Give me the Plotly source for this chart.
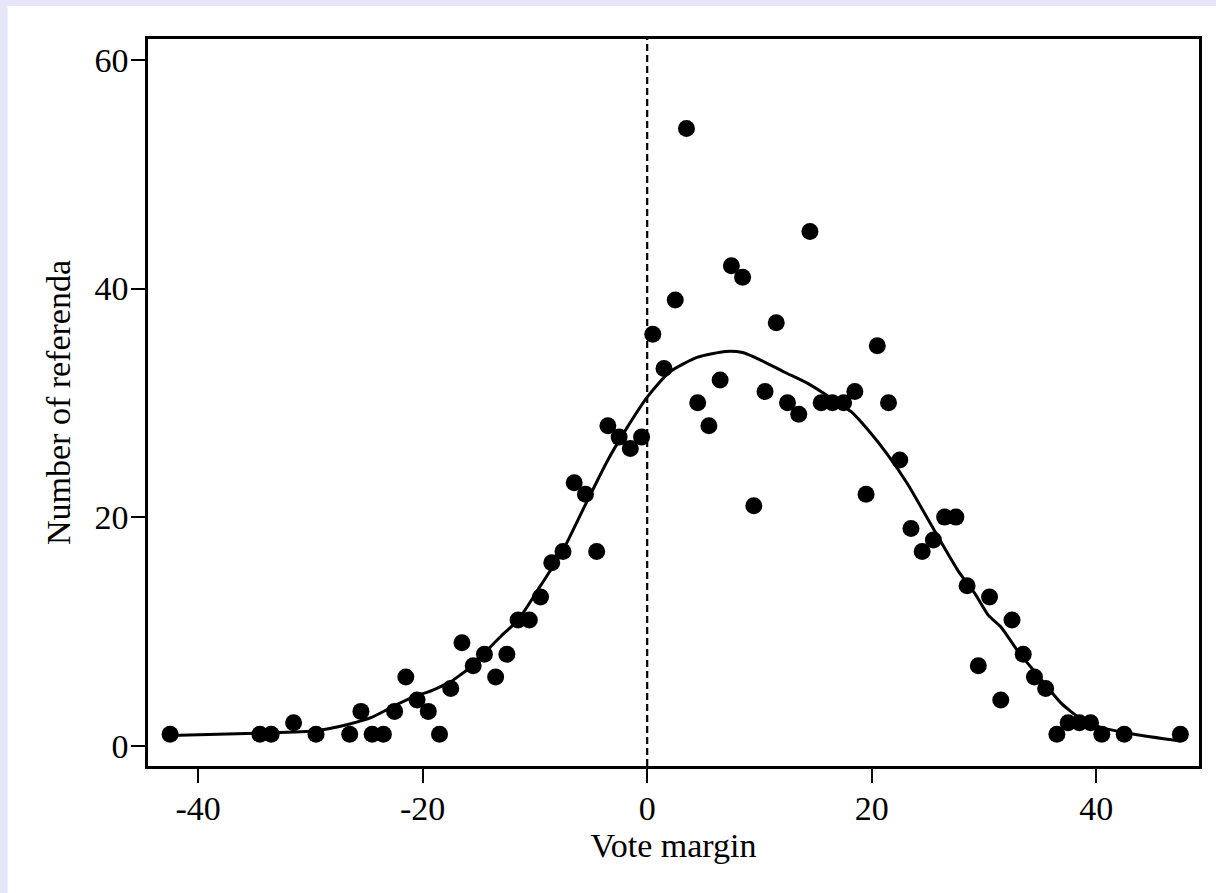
import plotly.graph_objects as go

# Binned counts of referenda by vote margin (bin centres)
margin = [-42.5, -34.5, -33.5, -31.5, -29.5, -26.5, -25.5, -24.5, -23.5, -22.5,
          -21.5, -20.5, -19.5, -18.5, -17.5, -16.5, -15.5, -14.5, -13.5, -12.5,
          -11.5, -10.5, -9.5, -8.5, -7.5, -6.5, -5.5, -4.5, -3.5, -2.5,
          -1.5, -0.5, 0.5, 1.5, 2.5, 3.5, 4.5, 5.5, 6.5, 7.5,
          8.5, 9.5, 10.5, 11.5, 12.5, 13.5, 14.5, 15.5, 16.5, 17.5,
          18.5, 19.5, 20.5, 21.5, 22.5, 23.5, 24.5, 25.5, 26.5, 27.5,
          28.5, 29.5, 30.5, 31.5, 32.5, 33.5, 34.5, 35.5, 36.5, 37.5,
          38.5, 39.5, 40.5, 42.5, 47.5]
count = [1, 1, 1, 2, 1, 1, 3, 1, 1, 3,
         6, 4, 3, 1, 5, 9, 7, 8, 6, 8,
         11, 11, 13, 16, 17, 23, 22, 17, 28, 27,
         26, 27, 36, 33, 39, 54, 30, 28, 32, 42,
         41, 21, 31, 37, 30, 29, 45, 30, 30, 30,
         31, 22, 35, 30, 25, 19, 17, 18, 20, 20,
         14, 7, 13, 4, 11, 8, 6, 5, 1, 2,
         2, 2, 1, 1, 1]

# Smoothed (lowess-style) curve
smooth_x = [-42.5, -34.5, -29.5, -26.5, -24.5, -22.5, -20.5, -19.5, -17.5, -16.5,
            -15.5, -14.5, -13.0, -11.5, -9.5, -7.5, -5.6, -3.5, -2.0, 0.0,
            2.0, 4.5, 7.0, 8.5, 10.2, 12.2, 14.3, 16.1, 18.2, 19.7,
            21.4, 23.2, 25.6, 27.7, 29.2, 30.4, 31.5, 33.0, 35.1, 36.9,
            38.7, 40.4, 43.4, 47.5]
smooth_y = [0.9, 1.1, 1.3, 1.9, 2.5, 3.5, 4.4, 4.7, 5.6, 6.3,
            7.0, 8.1, 9.6, 11.0, 14.0, 17.1, 20.9, 25.0, 27.5, 30.5,
            32.7, 34.0, 34.5, 34.4, 33.7, 32.7, 31.7, 30.6, 29.2, 27.6,
            25.5, 22.9, 18.8, 15.3, 13.3, 11.4, 10.4, 8.3, 5.8, 3.7,
            2.3, 1.6, 1.0, 0.4]

x_ticks = [-40, -20, 0, 20, 40]
x_tick_labels = ["-40", "-20", "0", "20", "40"]
y_ticks = [0, 20, 40, 60]
y_tick_labels = ["0", "20", "40", "60"]

FONT = "Liberation Serif"

fig = go.Figure()
fig.add_trace(go.Scatter(x=smooth_x, y=smooth_y, mode="lines",
                         line=dict(color="black", width=3, shape="spline", smoothing=0.6),
                         hoverinfo="skip", showlegend=False))
fig.add_trace(go.Scatter(x=margin, y=count, mode="markers",
                         marker=dict(color="black", size=17, line=dict(width=0)),
                         showlegend=False))

fig.add_vline(x=0, line=dict(color="black", width=2.2, dash="7px,4px"))

# white inner region on lavender surround
fig.add_shape(type="rect", xref="paper", yref="paper",
              x0=-0.1336, x1=1.2, y0=-0.4, y1=1.0454,
              fillcolor="white", line=dict(width=0), layer="below")

axis_common = dict(showline=True, linecolor="black", linewidth=2.5, mirror=True,
                   ticks="outside", ticklen=14, tickwidth=2.2, tickcolor="black",
                   showgrid=False, zeroline=False, ticklabelstandoff=-4,
                   tickfont=dict(family=FONT, size=34, color="black"))

fig.update_xaxes(range=[-44.47, 49.16], tickvals=x_ticks, ticktext=x_tick_labels,
                 title=dict(text="Vote margin", font=dict(family=FONT, size=34, color="black"),
                            standoff=0),
                 **axis_common)
fig.update_yaxes(range=[-1.78, 61.84], tickvals=y_ticks, ticktext=y_tick_labels,
                 title=dict(text="Number of referenda", font=dict(family=FONT, size=34, color="black"),
                            standoff=14),
                 **axis_common)

fig.update_layout(width=1216, height=893,
                  margin=dict(l=147.5, r=17, t=39, b=127, autoexpand=False),
                  paper_bgcolor="#e6e6fa", plot_bgcolor="white",
                  font=dict(family=FONT, color="black"),
                  hovermode=False)

fig.write_html("out.html", config={"displayModeBar": False})
